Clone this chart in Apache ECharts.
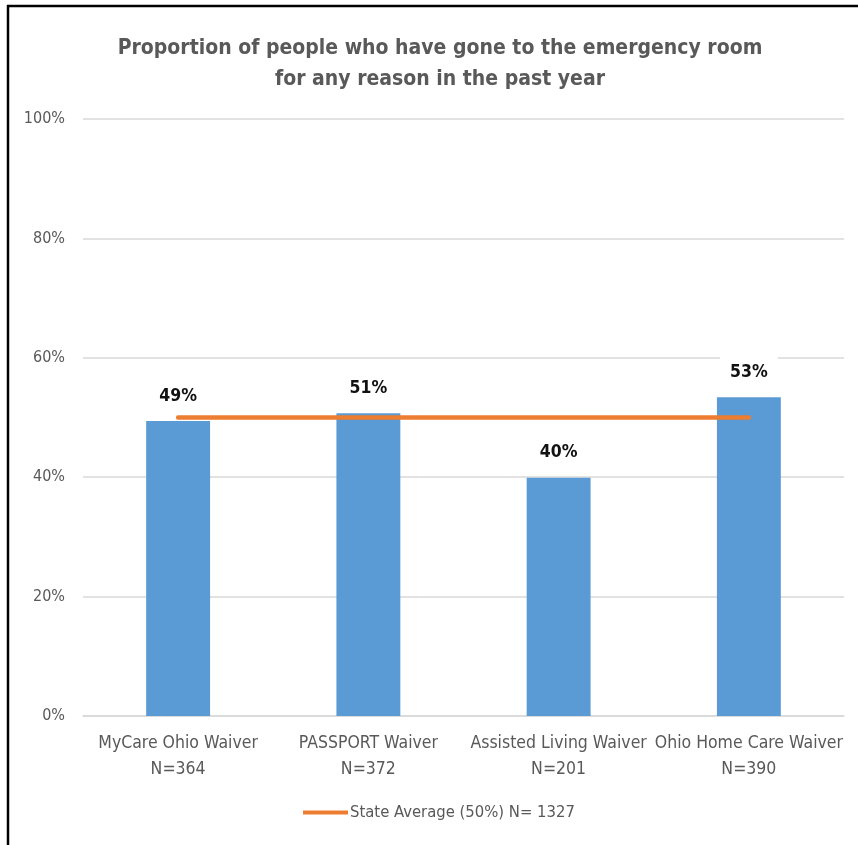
<!DOCTYPE html>
<html>
<head>
<meta charset="utf-8">
<script src="https://cdn.jsdelivr.net/npm/echarts@6/dist/echarts.min.js"></script>
<style>
html,body{margin:0;padding:0;background:#fff;}
#c{width:858px;height:845px;}
</style>
</head>
<body>
<div id="c"></div>
<script>
const categories = ['MyCare Ohio Waiver\nN=364', 'PASSPORT Waiver\nN=372', 'Assisted Living Waiver\nN=201', 'Ohio Home Care Waiver\nN=390'];
const waiverValues = [49.4, 50.7, 39.9, 53.4];
const waiverLabels = ['49%', '51%', '40%', '53%'];
const stateAverage = [50, 50, 50, 50];
const yTicks = [0, 20, 40, 60, 80, 100];
const stateName = 'State Average (50%) N= 1327';

const chart = echarts.init(document.getElementById('c'), null, {renderer: 'canvas'});
const font = '"Liberation Sans Narrow", "DejaVu Sans Condensed", "Liberation Sans", sans-serif';
chart.setOption({
  animation: false,
  backgroundColor: '#fff',
  title: {
    text: 'Proportion of people who have gone to the emergency room\nfor any reason in the past year',
    left: 435, top: 28, textAlign: 'center',
    textStyle: {fontFamily: font, fontSize: 21, fontWeight: 'bold', color: '#595959', lineHeight: 31}
  },
  graphic: [
    {type: 'line', shape: {x1: 7, y1: 6, x2: 858, y2: 6}, style: {stroke: '#000', lineWidth: 2.5}},
    {type: 'line', shape: {x1: 8, y1: 5, x2: 8, y2: 845}, style: {stroke: '#000', lineWidth: 2.5}}
  ],
  grid: {left: 83, right: 14, top: 119, bottom: 129, containLabel: false},
  legend: {
    data: [stateName], bottom: 19, left: 298,
    itemWidth: 45, itemHeight: 4, itemGap: 2,
    icon: 'rect',
    textStyle: {fontFamily: font, fontSize: 16.5, color: '#595959', padding: [0,0,0,-3]}
  },
  xAxis: {
    type: 'category', data: categories,
    axisLine: {show: true, lineStyle: {color: '#d9d9d9', width: 1.5}},
    axisTick: {show: false},
    axisLabel: {fontFamily: font, fontSize: 17.5, color: '#595959', lineHeight: 26, margin: 14, interval: 0}
  },
  yAxis: {
    type: 'value', min: 0, max: 100, interval: 20,
    axisLine: {show: false}, axisTick: {show: false},
    splitLine: {lineStyle: {color: '#d9d9d9', width: 1.5}},
    axisLabel: {fontFamily: font, fontSize: 16, color: '#595959', margin: 18,
      formatter: v => yTicks.includes(v) ? v + '%' : ''}
  },
  series: [
    {
      name: 'Waivers', type: 'bar', data: waiverValues, barWidth: '33.6%',
      itemStyle: {color: '#5b9bd5'},
      label: {show: true, position: 'top', distance: 14,
        formatter: p => waiverLabels[p.dataIndex],
        fontFamily: font, fontSize: 17.5, fontWeight: 'bold', color: '#111',
        backgroundColor: '#fff', padding: [9, 10, 2, 10]},
      z: 2
    },
    {
      name: stateName, type: 'line', data: stateAverage,
      symbol: 'none', lineStyle: {color: '#ed7d31', width: 4.5, cap: 'round'},
      itemStyle: {color: '#ed7d31'}, z: 5
    }
  ]
});
</script>
</body>
</html>
